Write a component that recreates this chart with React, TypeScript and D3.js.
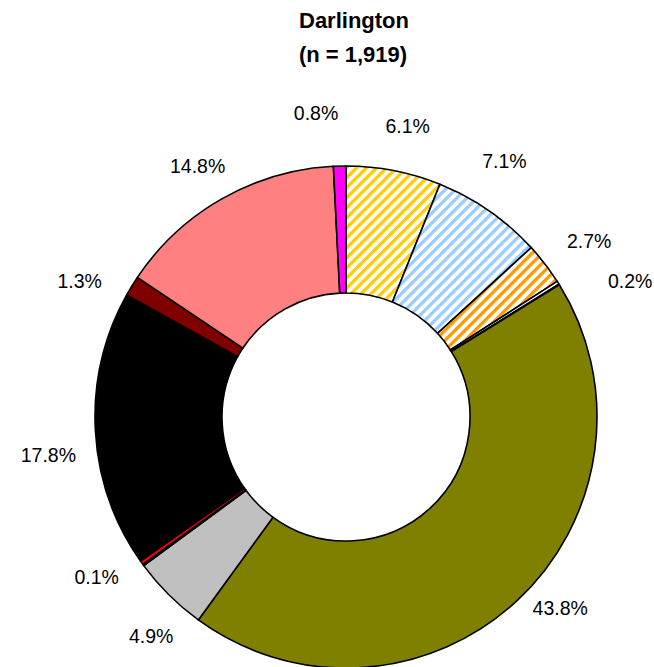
import React from "react";
import * as d3 from "d3";

const categories = ["A", "B", "C", "D", "E", "F", "G", "H", "I", "J", "K", "L", "M"];
const values = [6.1, 7.1, 2.7, 0.2, 0.05, 43.8, 4.9, 0.1, 0.25, 17.8, 1.3, 14.8, 0.8];
const labels = ["6.1%", "7.1%", "2.7%", "0.2%", "", "43.8%", "4.9%", "0.1%", "", "17.8%", "1.3%", "14.8%", "0.8%"];
const fills = ["url(#pYellow)", "url(#pBlue)", "url(#pOrange)", "#FFFFFF", "#99CC00", "#808000", "#C0C0C0", "#008080", "#FF0000", "#000000", "#800000", "#FF8080", "#FF00FF"];
// label layout tweaks (degrees, radius)
const labelAngleShift = [1, -3, 1.7, 6.8, 0, -5.4, -3.2, 3.5, 0, -4.3, -4.4, -1, -4.2];
const labelRadius = [297, 301, 300, 315, 0, 287, 293, 296, 0, 300, 299, 292, 305];

const W = 654, H = 667;
const cx = 346, cy = 417, R = 251, r0 = 124;

const P = 7.1, S = 3.3;

export default function App() {
  const pie = d3.pie<number>().value((d) => d).sort(null);
  const arcs = pie(values);
  const arc = d3.arc<d3.PieArcDatum<number>>().innerRadius(r0).outerRadius(R);
  const pat = (id: string, c: string) => (
    <pattern id={id} patternUnits="userSpaceOnUse" width={P} height="10" patternTransform="rotate(45)">
      <rect width={P} height="10" fill="#fff" />
      <rect width={S} height="10" fill={c} />
    </pattern>
  );
  return (
    <svg width={W} height={H} style={{ position: "absolute", left: 0, top: 0 }} fontFamily="'Liberation Sans', Arial, sans-serif">
      <defs>
        {pat("pYellow", "#FFCC00")}
        {pat("pBlue", "#99CCFF")}
        {pat("pOrange", "#FF9900")}
      </defs>
      <rect width={W} height={H} fill="#fff" />
      <text x={354} y={28} textAnchor="middle" fontWeight="bold" fontSize={22}>Darlington</text>
      <text x={353} y={62} textAnchor="middle" fontWeight="bold" fontSize={22}>(n = 1,919)</text>
      <g transform={`translate(${cx},${cy})`}>
        {arcs.map((a, i) => (
          <path key={categories[i]} d={arc(a) || ""} fill={fills[i]} stroke="#000" strokeWidth={1.6} strokeLinejoin="round" />
        ))}
        {arcs.map((a, i) => {
          if (!labels[i]) return null;
          const ang = (a.startAngle + a.endAngle) / 2 + (labelAngleShift[i] * Math.PI) / 180;
          const rr = labelRadius[i];
          const x = Math.sin(ang) * rr;
          const y = -Math.cos(ang) * rr;
          return (
            <text key={"l" + i} x={x} y={y} textAnchor="middle" dominantBaseline="central" fontSize={19.5}>
              {labels[i]}
            </text>
          );
        })}
      </g>
    </svg>
  );
}
